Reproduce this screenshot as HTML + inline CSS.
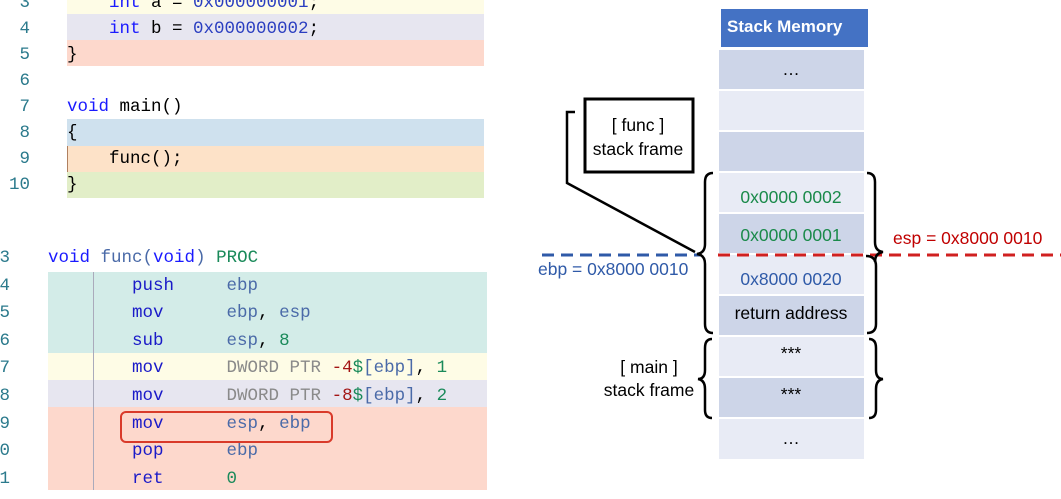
<!DOCTYPE html>
<html><head><style>
body{margin:0;width:1061px;height:499px;background:#fff;overflow:hidden;position:relative;font-family:"Liberation Sans",sans-serif}
.c{position:absolute;font-family:"Liberation Mono",monospace;font-size:17.5px;line-height:26px;white-space:pre}
.bg{position:absolute}
.n{position:absolute;font-family:"Liberation Mono",monospace;font-size:17.5px;color:#2b7a8c;text-align:right;line-height:26px}
.k{color:#1a1aff}.b{color:#2a3ec0}.m{color:#1a1ac8}.o{color:#4a6aa8}.g{color:#8a8a8a}.r{color:#a31515}.t{color:#1a8a5a}
</style></head><body>
<div class="bg" style="left:67px;top:0;width:417px;height:14px;background:#fefce6"></div>
<div class="bg" style="left:67px;top:14px;width:417px;height:26px;background:#e7e6f0"></div>
<div class="bg" style="left:67px;top:40px;width:417px;height:26px;background:#fdd8cc"></div>
<div class="bg" style="left:67px;top:119px;width:417px;height:27px;background:#cfe1ee"></div>
<div class="bg" style="left:67px;top:146px;width:417px;height:26px;background:#fde2c8"></div>
<div class="bg" style="left:67px;top:172px;width:417px;height:26px;background:#e2eec8"></div>
<div class="bg" style="left:67px;top:146px;width:1px;height:26px;background:#b08060"></div>
<div class="n" style="left:0;top:-10px;width:30px">3<br>4<br>5<br>6<br>7<br>8<br>9<br>10</div>
<div class="c" style="left:67px;top:-10px"><span class="k">    int</span> a = <span class="b">0x000000001</span>;
<span class="k">    int</span> b = <span class="b">0x000000002</span>;
}

<span class="k">void</span> main()
{
    func();
}</div>

<div class="bg" style="left:48px;top:272px;width:439px;height:81px;background:#d3ece8"></div>
<div class="bg" style="left:48px;top:353px;width:439px;height:27px;background:#fefce6"></div>
<div class="bg" style="left:48px;top:380px;width:439px;height:27px;background:#e7e6f0"></div>
<div class="bg" style="left:48px;top:407px;width:439px;height:83px;background:#fdd8cc"></div>
<div class="bg" style="left:93px;top:272px;width:1px;height:218px;background:#aab"></div>
<div class="n" style="left:-20px;top:245px;width:30px;line-height:27.6px">3<br>4<br>5<br>6<br>7<br>8<br>9<br>0<br>1</div>
<div class="c" style="left:48px;top:245px;line-height:27.6px"><span class="k">void</span> <span class="o">func(</span><span class="k">void</span><span class="o">)</span> <span class="t">PROC</span>
        <span class="m">push</span>     <span class="o">ebp</span>
        <span class="m">mov</span>      <span class="o">ebp</span>, <span class="o">esp</span>
        <span class="m">sub</span>      <span class="o">esp</span>, <span class="t">8</span>
        <span class="m">mov</span>      <span class="g">DWORD PTR</span> <span class="r">-4</span><span class="t">$</span><span class="o">[ebp]</span>, <span class="t">1</span>
        <span class="m">mov</span>      <span class="g">DWORD PTR</span> <span class="r">-8</span><span class="t">$</span><span class="o">[ebp]</span>, <span class="t">2</span>
        <span class="m">mov</span>      <span class="o">esp</span>, <span class="o">ebp</span>
        <span class="m">pop</span>      <span class="o">ebp</span>
        <span class="m">ret</span>      <span class="t">0</span></div>
<div class="bg" style="left:120px;top:411px;width:209px;height:28px;border:2px solid #d93a2a;border-radius:6px"></div>

<svg style="position:absolute;left:0;top:0" width="1061" height="499">
<rect x="721" y="9" width="147" height="38" fill="#4472c4"/>
<text x="727" y="32" fill="#fff" font-size="17" font-weight="bold" font-family="Liberation Sans">Stack Memory</text>
<g font-family="Liberation Sans" font-size="17.5" text-anchor="middle">
<rect x="719" y="50" width="145" height="39" fill="#cdd5e8"/>
<rect x="719" y="91" width="145" height="39" fill="#e8ebf5"/>
<rect x="719" y="132" width="145" height="39" fill="#cdd5e8"/>
<rect x="719" y="173" width="145" height="39" fill="#e8ebf5"/>
<rect x="719" y="214" width="145" height="39" fill="#cdd5e8"/>
<rect x="719" y="255" width="145" height="39" fill="#e8ebf5"/>
<rect x="719" y="296" width="145" height="39" fill="#cdd5e8"/>
<rect x="719" y="337" width="145" height="39" fill="#e8ebf5"/>
<rect x="719" y="378" width="145" height="39" fill="#cdd5e8"/>
<rect x="719" y="419" width="145" height="40" fill="#e8ebf5"/>
<text x="791" y="75">…</text>
<text x="791" y="203" fill="#1a8a4a">0x0000 0002</text>
<text x="791" y="241" fill="#1a8a4a">0x0000 0001</text>
<text x="791" y="285" fill="#2f5aa8">0x8000 0020</text>
<text x="791" y="319">return address</text>
<text x="791" y="359">***</text>
<text x="791" y="400">***</text>
<text x="791" y="444">…</text>
<text x="638" y="131">[ func ]</text>
<text x="638" y="155">stack frame</text>
<text x="649" y="373">[ main ]</text>
<text x="649" y="396">stack frame</text>
</g>
<text x="538" y="275" fill="#2f5aa8" font-size="17.5" font-family="Liberation Sans">ebp = 0x8000 0010</text>
<text x="893" y="244" fill="#c00000" font-size="17.5" font-family="Liberation Sans">esp = 0x8000 0010</text>
<line x1="542" y1="255" x2="700" y2="255" stroke="#2f5aa8" stroke-width="3" stroke-dasharray="12,7"/>
<line x1="718" y1="255" x2="1061" y2="255" stroke="#d02020" stroke-width="3" stroke-dasharray="12,7"/>
<rect x="585" y="99" width="108" height="73" fill="none" stroke="#000" stroke-width="3"/>
<polyline points="575,112 567,112 567,183 695,252" fill="none" stroke="#000" stroke-width="2.5"/>
<g fill="none" stroke="#000" stroke-width="2.5">
<path d="M713,173 Q705,173 705,182 L705,244 Q705,253 697,254 Q705,255 705,264 L705,324 Q705,333 713,333"/>
<path d="M867,173 Q875,173 875,182 L875,242 Q875,251 883,252 Q875,253 875,262"/>
<path d="M866,256 Q876,256 876,266 L876,324 Q876,333 867,333"/>
<path d="M712,339 Q705,339 705,348 L705,370 Q705,379 698,379 Q705,380 705,389 L705,410 Q705,418 712,418"/>
<path d="M869,339 Q876,339 876,348 L876,370 Q876,379 883,379 Q876,380 876,389 L876,410 Q876,418 869,418"/>
</g>
</svg>
</body></html>
